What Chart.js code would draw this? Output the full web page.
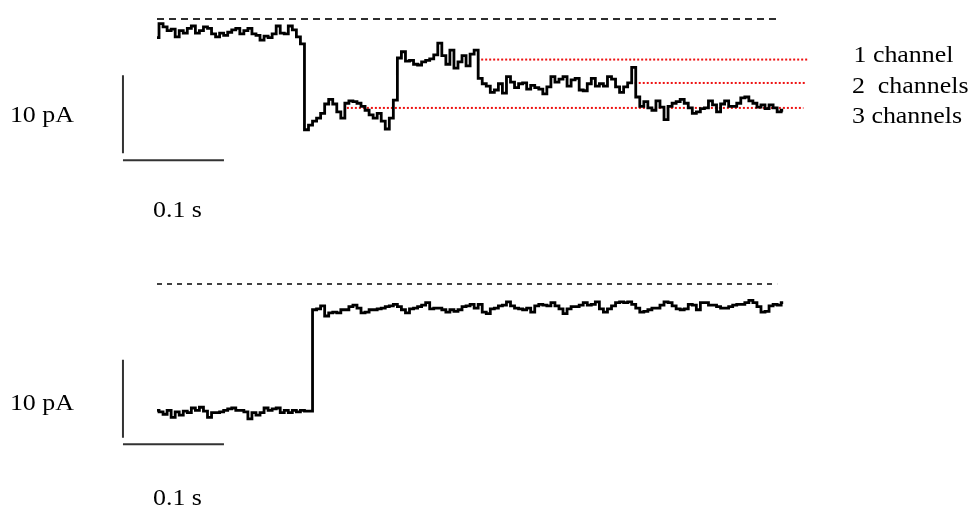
<!DOCTYPE html>
<html>
<head>
<meta charset="utf-8">
<script src="https://cdn.jsdelivr.net/npm/chart.js@4.4.1/dist/chart.umd.min.js"></script>
<style>
  html, body { margin: 0; padding: 0; background: #ffffff; overflow: hidden; }
  #wrap { position: relative; width: 973px; height: 506px; }
</style>
</head>
<body>
<div id="wrap"><canvas id="rec" width="973" height="506"></canvas></div>
<script>
// Sampling interval of both current records (s)
const SAMPLE_INTERVAL = 0.004;

// Upper record: patch with up to three open channels (pA, closed level = 0)
const upperTrace = [
  -2.4, -0.6, -1.0, -1.5, -1.3, -2.3, -1.5, -1.8, -1.2, -0.9,
  -1.8, -1.5, -1.0, -1.2, -1.9, -2.3, -1.8, -2.1, -1.7, -1.4,
  -1.2, -1.9, -1.5, -1.2, -1.9, -2.1, -2.7, -2.2, -2.4, -1.9,
  -0.9, -1.8, -1.9, -0.9, -1.4, -2.3, -3.2, -14.2, -13.6, -13.1,
  -12.7, -12.1, -10.9, -10.3, -10.9, -11.9, -12.7, -10.8, -10.5, -10.6,
  -10.8, -11.2, -11.7, -12.3, -12.7, -12.1, -13.1, -14.1, -12.7, -10.4,
  -5.0, -4.2, -5.4, -5.3, -5.8, -5.9, -5.5, -5.3, -5.1, -4.6,
  -3.1, -4.7, -5.8, -4.0, -6.3, -5.5, -4.7, -6.0, -4.5, -4.0,
  -7.6, -8.3, -8.6, -9.4, -9.1, -8.3, -9.5, -7.4, -8.1, -8.8,
  -8.3, -8.2, -9.0, -8.5, -8.8, -9.0, -9.6, -8.7, -7.4, -8.1,
  -7.7, -7.4, -8.6, -7.8, -7.6, -9.1, -9.2, -8.3, -7.6, -8.6,
  -8.3, -8.6, -7.4, -7.7, -8.7, -9.4, -8.7, -8.2, -6.2, -10.0,
  -11.2, -10.6, -11.4, -11.7, -10.5, -11.3, -12.9, -11.2, -10.8, -10.6,
  -10.3, -10.8, -11.4, -12.1, -11.9, -11.5, -11.4, -10.5, -11.0, -11.9,
  -10.9, -10.5, -11.2, -11.2, -10.8, -10.1, -10.0, -10.5, -10.8, -11.3,
  -11.0, -11.5, -11.0, -11.4, -11.9, -11.7
];

// Lower record: single large closing step (pA, closed level = 0)
const lowerTrace = [
  -16.2, -16.4, -16.7, -16.2, -17.1, -16.4, -16.8, -16.3, -16.5, -15.9,
  -16.2, -15.8, -16.3, -17.1, -16.5, -16.5, -16.4, -16.2, -16.0, -15.9,
  -16.2, -16.2, -16.4, -17.3, -16.5, -16.8, -16.5, -15.9, -16.2, -16.0,
  -15.9, -16.5, -16.2, -16.5, -16.2, -16.4, -16.2, -16.3, -16.3, -3.3,
  -3.2, -2.8, -4.1, -3.7, -3.6, -3.7, -3.3, -3.3, -2.9, -2.7,
  -3.1, -3.7, -3.6, -3.3, -3.3, -3.2, -3.1, -2.9, -2.8, -2.6,
  -2.9, -3.3, -3.7, -3.2, -3.1, -2.9, -2.7, -2.4, -3.2, -3.1,
  -3.1, -3.3, -3.6, -3.3, -3.5, -3.3, -2.9, -2.8, -2.6, -3.1,
  -2.6, -3.6, -3.8, -3.2, -3.1, -2.8, -2.7, -2.3, -2.8, -3.1,
  -3.2, -3.3, -3.1, -3.6, -2.8, -2.6, -2.7, -2.8, -2.4, -2.8,
  -3.2, -3.8, -3.2, -2.9, -2.9, -2.7, -2.4, -2.7, -2.6, -2.3,
  -3.2, -3.6, -3.2, -2.8, -2.4, -2.3, -2.4, -2.3, -2.6, -3.1,
  -3.6, -3.5, -3.3, -3.1, -3.1, -2.7, -2.3, -2.4, -2.8, -3.2,
  -3.3, -3.2, -2.6, -2.7, -3.3, -2.4, -2.4, -2.7, -2.7, -2.9,
  -3.1, -3.1, -2.9, -2.7, -2.6, -2.6, -2.4, -2.1, -2.4, -2.9,
  -3.6, -3.5, -2.8, -2.6, -2.7, -2.4
];

// Closed-state reference level and its extent (s)
const closedLevel = 0;
const closedLineEnd = [0.617, 0.614];

// Open-channel levels of the upper record (pA) with their labels and extents (s)
const channelLevels = [-5.2, -8.2, -11.4];
const channelLabels = ['1 channel', '2  channels', '3 channels'];
const channelLineStart = [0.317, 0.473, 0.188];
const channelLineEnd = [0.644, 0.642, 0.640];

// Calibration bars
const scaleBarCurrent = 10;   // pA
const scaleBarTime = 0.1;     // s
const scaleBarLabels = ['10 pA', '0.1 s'];

// ---- build datasets ----
const toPoints = arr => arr.map((v, i) => ({ x: +(i * SAMPLE_INTERVAL).toFixed(4), y: v }));
const seg = (x0, y0, x1, y1) => [{ x: x0, y: y0 }, { x: x1, y: y1 }];

const traceStyle = { borderColor: '#000000', borderWidth: 2.8, pointRadius: 0, stepped: 'middle', fill: false };
const barStyle = { borderColor: '#333333', borderWidth: 2, pointRadius: 0, fill: false, borderCapStyle: 'butt' };

// calibration bar placement, per panel: [bar time, top of vertical bar, level of horizontal bar]
const barPlacement = {
  yTop: [-0.0337, -7.2, -18.1],
  yBottom: [-0.0337, -9.7, -20.55]
};

const datasets = [];
datasets.push(Object.assign({ label: 'upper', data: toPoints(upperTrace), yAxisID: 'yTop' }, traceStyle));
datasets.push(Object.assign({ label: 'lower', data: toPoints(lowerTrace), yAxisID: 'yBottom' }, traceStyle));

datasets.push({ label: 'closed-upper', data: seg(0, closedLevel, closedLineEnd[0], closedLevel), yAxisID: 'yTop',
  borderColor: '#2e2e2e', borderWidth: 2.2, borderDash: [7, 5], pointRadius: 0 });
datasets.push({ label: 'closed-lower', data: seg(0, closedLevel, closedLineEnd[1], closedLevel), yAxisID: 'yBottom',
  borderColor: '#2e2e2e', borderWidth: 1.8, borderDash: [5, 5], pointRadius: 0 });

channelLevels.forEach((lv, k) => {
  datasets.push({ label: 'level-' + (k + 1), data: seg(channelLineStart[k], lv, channelLineEnd[k], lv), yAxisID: 'yTop',
    borderColor: '#ee1111', borderWidth: 2, borderDash: [2, 2], pointRadius: 0 });
});

Object.keys(barPlacement).forEach(axis => {
  const [t0, iTop, iH] = barPlacement[axis];
  datasets.push(Object.assign({ label: 'vbar-' + axis, data: seg(t0, iTop, t0, iTop - scaleBarCurrent), yAxisID: axis }, barStyle));
  datasets.push(Object.assign({ label: 'hbar-' + axis, data: seg(t0, iH, t0 + scaleBarTime, iH), yAxisID: axis }, barStyle));
});

// ---- text: calibration labels and channel labels ----
const TEXT_STRETCH = 1.08;
function drawText(ctx, txt, x, y, align) {
  ctx.save();
  ctx.translate(x, y);
  ctx.scale(TEXT_STRETCH, 1);
  ctx.textAlign = align;
  ctx.fillText(txt, 0, 0);
  ctx.restore();
}

const labelPlugin = {
  id: 'recLabels',
  afterDatasetsDraw(chart) {
    const ctx = chart.ctx;
    const xs = chart.scales.x;
    ctx.save();
    ctx.fillStyle = '#000000';
    ctx.font = '24px "Liberation Serif", "Times New Roman", serif';
    ctx.textBaseline = 'alphabetic';

    // calibration labels
    const offsets = { yTop: [7.6, 56.7], yBottom: [11.5, 60.5] };
    Object.keys(barPlacement).forEach(axis => {
      const ys = chart.scales[axis];
      const [t0, iTop, iH] = barPlacement[axis];
      const bx = xs.getPixelForValue(t0);
      const midY = ys.getPixelForValue(iTop - scaleBarCurrent / 2);
      drawText(ctx, scaleBarLabels[0], bx - 49, midY + offsets[axis][0], 'right');
      drawText(ctx, scaleBarLabels[1], bx + 30, ys.getPixelForValue(iH) + offsets[axis][1], 'left');
    });

    // channel labels, stacked in a column to the right of the level lines
    const yTop = chart.scales.yTop;
    const colX = xs.getPixelForValue(channelLineEnd[0]) + 46;
    const firstBase = yTop.getPixelForValue(channelLevels[0]) + 2.5;
    channelLabels.forEach((txt, k) => {
      drawText(ctx, txt, colX - (k === 0 ? 0 : 1.5), firstBase + k * 30.5, 'left');
    });
    ctx.restore();
  }
};

// pixel scale: 0.1 s -> 101 px, 10 pA -> 78 px
const PX_PER_S = 1010, PX_PER_PA = 7.8, W = 973, H = 506;
const T_ORIGIN_PX = 157, TOP_ZERO_PX = 19, BOTTOM_ZERO_PX = 284;

new Chart(document.getElementById('rec'), {
  type: 'line',
  data: { datasets },
  options: {
    responsive: false,
    devicePixelRatio: 1,
    animation: false,
    layout: { padding: 0 },
    plugins: { legend: { display: false }, tooltip: { enabled: false }, title: { display: false } },
    elements: { line: { tension: 0 } },
    scales: {
      x: { type: 'linear', display: false, min: -T_ORIGIN_PX / PX_PER_S, max: (W - T_ORIGIN_PX) / PX_PER_S },
      yTop: { type: 'linear', display: false, min: (TOP_ZERO_PX - H) / PX_PER_PA, max: TOP_ZERO_PX / PX_PER_PA },
      yBottom: { type: 'linear', display: false, min: (BOTTOM_ZERO_PX - H) / PX_PER_PA, max: BOTTOM_ZERO_PX / PX_PER_PA }
    }
  },
  plugins: [labelPlugin]
});
</script>
</body>
</html>
